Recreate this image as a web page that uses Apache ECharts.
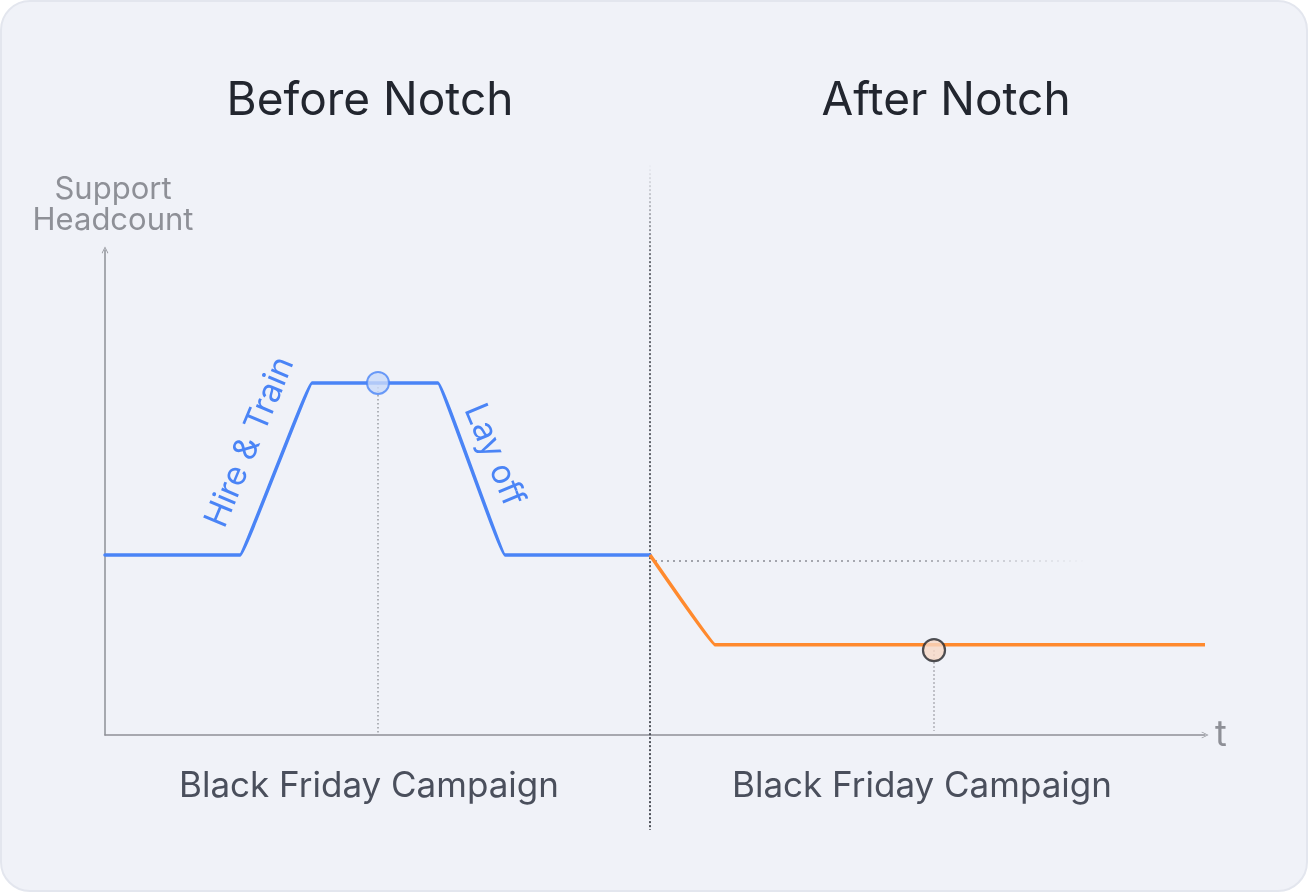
<!DOCTYPE html>
<html>
<head>
<meta charset="utf-8">
<script src="https://cdn.jsdelivr.net/npm/echarts@6/dist/echarts.min.js"></script>
<style>
  html, body { margin: 0; padding: 0; background: #ffffff; }
  #card { position: absolute; left: 0; top: 0; width: 1308px; height: 892px; box-sizing: border-box;
          border: 2px solid #e3e6ee; border-radius: 30px; background: #f0f2f8; }
  #chart { position: absolute; left: 0; top: 0; width: 1308px; height: 892px; }
</style>
</head>
<body>
<div id="card"></div>
<div id="chart"></div>
<script>
// ---- data (x: time units, y: headcount units) ----
const blueX = [0, 13.5, 20.7, 33.3, 40.0, 54.5];
const blueY = [37.1, 37.1, 72.6, 72.6, 37.1, 37.1];
const orangeX = [54.5, 61.0, 110];
const orangeY = [37.1, 18.6, 18.6];
const peakPoint = [27.3, 72.6];
const lowPoint = [82.9, 17.5];
const notchX = 54.5;
const notchYRange = [117.5, -19.6];
const baselineY = 35.9;
const baselineXRange = [55.0, 98.0];
const panelTitles = ['Before Notch', 'After Notch'];
const campaignLabels = ['Black Friday Campaign', 'Black Friday Campaign'];
const slopeLabels = ['Hire & Train', 'Lay off'];
const yAxisName = 'Support\nHeadcount';
const xAxisName = 't';

const zip = (xs, ys) => xs.map((x, i) => [x, ys[i]]);

const FONT = 'Inter, "Noto Sans", sans-serif';
const BLUE = '#4a84f6';
const ORANGE = '#ff8a2e';
const AXIS = '#8e9097';
const arrowPath = 'path://M0,10 L5,0 L10,10 L9,10.6 L5,2.2 L1,10.6 Z';

const chart = echarts.init(document.getElementById('chart'), null, { renderer: 'canvas' });

chart.setOption({
  backgroundColor: 'transparent',
  animation: false,
  grid: { left: 105, top: 250, width: 1100, height: 485, containLabel: false },
  xAxis: {
    type: 'value', min: 0, max: 110,
    axisLine: { show: true, lineStyle: { color: AXIS, width: 1.5 },
      symbol: ['none', arrowPath], symbolSize: [12, 7], symbolOffset: [0, 0] },
    axisTick: { show: false }, axisLabel: { show: false }, splitLine: { show: false },
    name: xAxisName, nameLocation: 'end', nameGap: 10,
    nameTextStyle: { color: AXIS, fontSize: 36, fontFamily: FONT, verticalAlign: 'middle', padding: [0, 0, 2, 0] }
  },
  yAxis: {
    type: 'value', min: 0, max: 100,
    axisLine: { show: true, lineStyle: { color: AXIS, width: 1.5 },
      symbol: ['none', arrowPath], symbolSize: [12, 7], symbolOffset: [0, 0] },
    axisTick: { show: false }, axisLabel: { show: false }, splitLine: { show: false },
    name: yAxisName, nameLocation: 'end', nameGap: 14,
    nameTextStyle: { color: AXIS, fontSize: 31, fontFamily: FONT, align: 'center', lineHeight: 31, padding: [0, 0, 0, 16] }
  },
  title: [
    { text: panelTitles[0], left: 365, top: 96, textAlign: 'center', textVerticalAlign: 'middle',
      textStyle: { fontSize: 46, fontWeight: 'normal', color: '#22262f', fontFamily: FONT } },
    { text: panelTitles[1], left: 941, top: 96, textAlign: 'center', textVerticalAlign: 'middle',
      textStyle: { fontSize: 46, fontWeight: 'normal', color: '#22262f', fontFamily: FONT } },
    { text: campaignLabels[0], left: 364, top: 781, textAlign: 'center', textVerticalAlign: 'middle',
      textStyle: { fontSize: 35, fontWeight: 'normal', color: '#4a4f5c', fontFamily: FONT } },
    { text: campaignLabels[1], left: 917, top: 781, textAlign: 'center', textVerticalAlign: 'middle',
      textStyle: { fontSize: 35, fontWeight: 'normal', color: '#4a4f5c', fontFamily: FONT } }
  ],
  graphic: [
    { type: 'text', x: 250, y: 442, rotation: 67.3 * Math.PI / 180, silent: true,
      style: { text: slopeLabels[0], fill: BLUE, fontSize: 33, fontFamily: FONT, align: 'center', verticalAlign: 'middle' } },
    { type: 'text', x: 494, y: 455, rotation: -67.3 * Math.PI / 180, silent: true,
      style: { text: slopeLabels[1], fill: BLUE, fontSize: 33, fontFamily: FONT, align: 'center', verticalAlign: 'middle' } }
  ],
  series: [
    { // notch divider
      type: 'line', data: [[notchX, notchYRange[0]], [notchX, notchYRange[1]]], clip: false,
      symbol: 'none', silent: true, z: 1,
      lineStyle: { width: 2, type: [2, 2],
        color: { type: 'linear', x: 0, y: 0, x2: 0, y2: 1, colorStops: [
          { offset: 0, color: 'rgba(60,64,72,0)' }, { offset: 0.15, color: 'rgba(60,64,72,0.75)' },
          { offset: 1, color: 'rgba(60,64,72,0.9)' } ] } }
    },
    { // baseline reference (previous level)
      type: 'line', data: [[baselineXRange[0], baselineY], [baselineXRange[1], baselineY]],
      symbol: 'none', silent: true, z: 1,
      lineStyle: { width: 2, type: [2, 4],
        color: { type: 'linear', x: 0, y: 0, x2: 1, y2: 0, colorStops: [
          { offset: 0, color: 'rgba(150,152,160,0.9)' }, { offset: 0.6, color: 'rgba(150,152,160,0.8)' },
          { offset: 1, color: 'rgba(150,152,160,0)' } ] } }
    },
    { // drop line from peak
      type: 'line', data: [[peakPoint[0], peakPoint[1]], [peakPoint[0], 0]],
      symbol: 'none', silent: true, z: 1,
      lineStyle: { width: 1.5, type: [1.5, 2.5], color: '#9a9ca3' }
    },
    { // drop line from low point
      type: 'line', data: [[lowPoint[0], lowPoint[1]], [lowPoint[0], 0.8]],
      symbol: 'none', silent: true, z: 1,
      lineStyle: { width: 1.5, type: [1.5, 2.5], color: '#9a9ca3' }
    },
    { // before notch headcount
      type: 'line', data: zip(blueX, blueY), smooth: 0.035, symbol: 'none', z: 3,
      lineStyle: { color: BLUE, width: 3.5, cap: 'round', join: 'round' }
    },
    { // after notch headcount
      type: 'line', data: zip(orangeX, orangeY), smooth: 0.03, symbol: 'none', z: 3,
      lineStyle: { color: ORANGE, width: 3.5, cap: 'butt', join: 'round' }
    },
    { // markers
      type: 'scatter', z: 5, symbolSize: 22,
      data: [
        { value: peakPoint, itemStyle: { color: '#c9daf9', borderColor: BLUE, borderWidth: 2 } },
        { value: lowPoint, itemStyle: { color: '#f7d8c6', borderColor: '#23252b', borderWidth: 2.2 } }
      ]
    }
  ]
});
</script>
</body>
</html>
